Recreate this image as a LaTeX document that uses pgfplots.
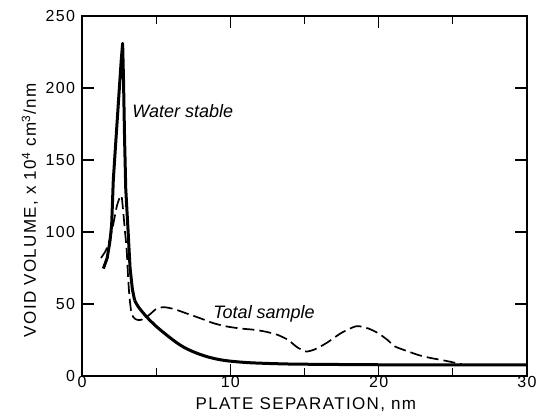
\documentclass[border=0pt]{standalone}
\usepackage{fontspec}
\setmainfont{Liberation Sans}
\newfontfamily\spaced[LetterSpace=8]{Liberation Sans}
\usepackage{pgfplots}
\pgfplotsset{compat=1.18}
\begin{document}
\begin{tikzpicture}
\path[use as bounding box] (-41pt,-19.5pt) rectangle (228pt,188pt);
\begin{axis}[
  scale only axis, width=222.5pt, height=180pt,
  xmin=0, xmax=30, ymin=0, ymax=250,
  xtick={0,10,20,30}, minor x tick num=1,
  ytick={0,50,100,150,200,250},
  major tick length=6pt, minor tick length=4pt,
  tick align=inside,
  axis line style={line width=0.75pt},
  every tick/.style={black, line width=0.6pt},
  /pgf/number format/assume math mode=true,
  ticklabel style={font=\spaced\fontsize{8}{9}\selectfont},
  xticklabel style={inner sep=1pt, yshift=1pt},
  xlabel={PLATE SEPARATION, nm},
  ylabel={VOID VOLUME, x 10\textsuperscript{4} cm\textsuperscript{3}/nm},
  label style={font=\spaced\fontsize{8.5}{10}\selectfont, inner sep=0pt},
  xlabel style={at={(axis description cs:0.503,-0.08)}, anchor=center},
  ylabel style={at={(axis description cs:-0.117,0.46)}, anchor=center},
  clip=false,
]
\addplot[black, line width=1.5pt, line join=round] coordinates {
(1.44,74.6) (1.7,82) (1.89,94) (2.0,105) (2.11,136) (2.3,166) (2.5,197) (2.65,220) (2.74,231)
(2.8,205) (2.87,165) (2.95,130) (3.1,102) (3.24,75) (3.4,60) (3.55,52.5)
};
\addplot[black, line width=1.5pt, smooth, tension=0.5] coordinates {
(3.55,52.5) (3.8,48) (4.36,41) (5,34.5) (5.7,28.5) (6.4,23) (7,19.2) (7.7,16)
(8.4,13.5) (9.2,11.5) (10,10.3) (11,9.4) (12,8.9) (14,8.3) (17,8) (20,7.8) (25,7.8) (30,7.8)
};
\addplot[black, line width=0.85pt, dash pattern=on 6pt off 2.5pt, smooth, tension=0.4] coordinates {
(1.28,82) (1.6,87) (1.89,95.5) (2.1,105) (2.35,118) (2.55,124) (2.67,125) (2.79,113)
(2.9,100) (3.01,88) (3.1,70) (3.2,55) (3.35,43) (3.6,39.5) (3.9,38.8) (4.2,40) (4.6,43)
(5.0,46.5) (5.5,47.8) (6.2,46.5) (7.06,43.4) (8,40) (8.85,36.7) (9.7,34.5) (10.65,33)
(11.7,32) (12.5,30.5) (13.2,28.5) (13.9,25) (14.5,20) (15.1,17) (15.7,18.5) (16.5,23)
(17.5,30) (18.5,34.6) (19.3,33) (20,29.5) (20.6,25) (21.1,20.5) (22,17) (22.7,14.5)
(23.5,12.5) (24.2,11.2) (25,9.5) (25.6,8.1)
};
\node[anchor=west, font=\itshape\fontsize{9}{10}\selectfont, inner sep=0pt] at (axis cs:3.37,184) {Water stable};
\node[anchor=west, font=\itshape\fontsize{9}{10}\selectfont, inner sep=0pt] at (axis cs:8.83,43) {Total sample};
\end{axis}
\end{tikzpicture}
\end{document}
